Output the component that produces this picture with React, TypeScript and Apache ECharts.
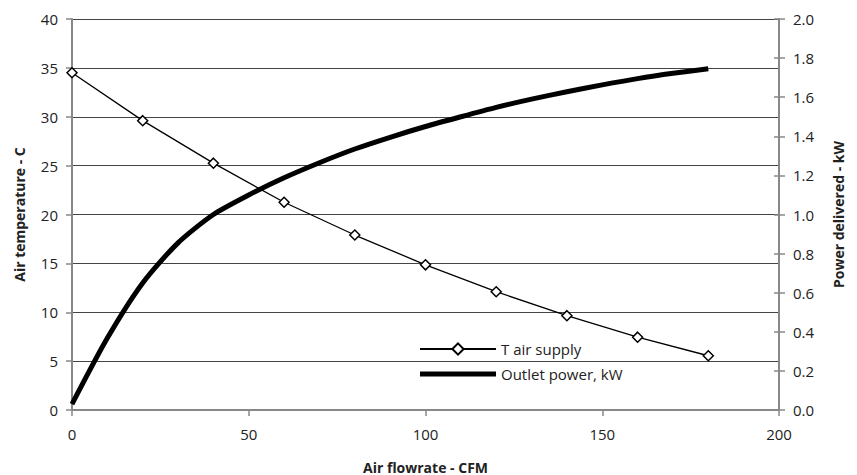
import React, { useEffect, useRef } from "react";
import * as echarts from "echarts";

const xTicks = [0, 50, 100, 150, 200];
const tempX = [0, 20, 40, 60, 80, 100, 120, 140, 160, 180];
const tempY = [34.5, 29.6, 25.25, 21.25, 17.9, 14.85, 12.1, 9.65, 7.45, 5.55];
const powerX = [0, 10, 20, 30, 40, 50, 60, 70, 80, 90, 100, 110, 120, 130, 140, 150, 160, 170, 180];
const powerY = [0.03, 0.368, 0.65, 0.855, 1.0, 1.1, 1.188, 1.265, 1.335, 1.395, 1.45, 1.5, 1.548, 1.59, 1.628, 1.663, 1.695, 1.722, 1.745];

const FONT = "Open Sans";

export default function App() {
  const ref = useRef<HTMLDivElement>(null);
  useEffect(() => {
    if (!ref.current) return;
    const chart = echarts.init(ref.current, undefined, { renderer: "svg" });
    const axisLine = { show: true, lineStyle: { color: "#888", width: 2 } };
    const label = { color: "#222", fontFamily: FONT, fontSize: 15 };
    const nameStyle = { color: "#222", fontFamily: FONT, fontSize: 14, fontWeight: "bold" as const };
    chart.setOption({
      animation: false,
      backgroundColor: "#fff",
      grid: { left: 72, right: 78, top: 19, bottom: 65, containLabel: false, outerBoundsMode: "none" },
      legend: {
        orient: "vertical",
        left: 419,
        top: 341,
        padding: 0,
        itemWidth: 76,
        itemHeight: 14,
        itemGap: 9,
        textStyle: { color: "#222", fontFamily: FONT, fontSize: 15, lineHeight: 16 },
        data: [
          { name: "T air supply" },
          { name: "Outlet power, kW", icon: "path://M0,0L76,0L76,5L0,5Z", itemStyle: { color: "#000" } },
        ],
      },
      xAxis: {
        type: "value",
        min: 0,
        max: 200,
        interval: 50,
        name: "Air flowrate - CFM",
        nameLocation: "middle",
        nameGap: 50,
        nameTextStyle: nameStyle,
        axisLine,
        axisTick: { show: true, length: 6, lineStyle: { color: "#888", width: 1.5 } },
        axisLabel: { ...label, margin: 16, formatter: (v: number) => (xTicks.includes(v) ? String(v) : "") },
        splitLine: { show: false },
      },
      yAxis: [
        {
          type: "value",
          min: 0,
          max: 40,
          interval: 5,
          name: "Air temperature - C",
          nameLocation: "middle",
          nameRotate: 90,
          nameGap: 46,
          nameTextStyle: nameStyle,
          axisLine,
          axisTick: { show: true, length: 6, lineStyle: { color: "#888", width: 1.5 } },
          axisLabel: { ...label, margin: 14 },
          splitLine: { show: true, lineStyle: { color: "#444", width: 1 } },
        },
        {
          type: "value",
          position: "right",
          min: 0,
          max: 2,
          interval: 0.2,
          name: "Power delivered - kW",
          nameLocation: "middle",
          nameRotate: 90,
          nameGap: 52,
          nameTextStyle: nameStyle,
          axisLine,
          axisTick: { show: true, length: 6, lineStyle: { color: "#888", width: 1.5 } },
          axisLabel: { ...label, margin: 14, formatter: (v: number) => v.toFixed(1) },
          splitLine: { show: false },
        },
        {
          type: "value",
          position: "right",
          min: 0,
          max: 2,
          interval: 0.2,
          axisLine: { show: false },
          axisTick: { show: true, inside: true, length: 5, lineStyle: { color: "#888", width: 1.5 } },
          axisLabel: { show: false },
          splitLine: { show: false },
        },
      ],
      series: [
        {
          name: "Outlet power, kW",
          type: "line",
          yAxisIndex: 1,
          smooth: 0.25,
          showSymbol: false,
          symbol: "none",
          lineStyle: { color: "#000", width: 5 },
          itemStyle: { color: "#000" },
          data: powerX.map((x, i) => [x, powerY[i]]),
        },
        {
          name: "T air supply",
          type: "line",
          yAxisIndex: 0,
          symbol: "diamond",
          symbolSize: 10,
          lineStyle: { color: "#000", width: 1.3 },
          itemStyle: { color: "#fff", borderColor: "#000", borderWidth: 1.5 },
          data: tempX.map((x, i) => [x, tempY[i]]),
          z: 3,
        },
      ],
    });
    return () => chart.dispose();
  }, []);
  return <div ref={ref} style={{ position: "fixed", left: 0, top: 0, width: 857, height: 475 }} />;
}
